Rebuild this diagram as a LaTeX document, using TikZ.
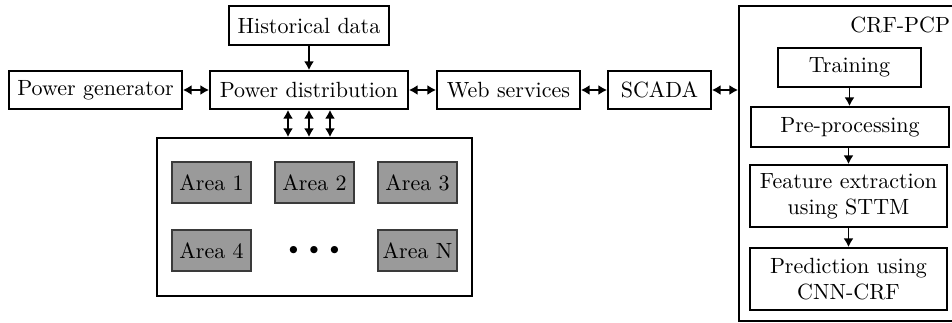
\documentclass[tikz,border=0pt]{standalone}
\usetikzlibrary{arrows.meta}
\def\PX{0.4545pt}
\definecolor{areafill}{HTML}{9A9A9A}
\definecolor{areaedge}{HTML}{3A3A3A}
\tikzset{
  blk/.style={draw, thick, inner sep=0pt, align=center, font=\normalsize},
  areabox/.style={draw=areaedge, fill=areafill, line width=0.5pt, inner sep=0pt,
    minimum width={79*\PX}, minimum height={41*\PX}},
  conn/.style={line width=0.9pt, {Latex[length=4pt,width=4.6pt]}-{Latex[length=4pt,width=4.6pt]}},
  oneway/.style={line width=0.9pt, -{Latex[length=4pt,width=4.6pt]}}
}
\begin{document}
\begin{tikzpicture}[x=\PX, y=-\PX]
\useasboundingbox (0,0) rectangle (952,323);
\begin{scope}
\clip (0,0) rectangle (952,323);
\node[blk, minimum width={160*\PX}, minimum height={39*\PX}] (hist) at (309,25.5) {Historical data};
\node[blk, minimum width={173*\PX}, minimum height={38*\PX}] (gen) at (95.5,90) {Power generator};
\node[blk, minimum width={198*\PX}, minimum height={38*\PX}] (dist) at (309,90) {Power distribution};
\node[blk, minimum width={143*\PX}, minimum height={38*\PX}] (web) at (508.5,90) {Web services};
\node[blk, minimum width={103*\PX}, minimum height={38*\PX}] (scada) at (659.5,90) {SCADA};
\node[blk, minimum width={219*\PX}, minimum height={315*\PX}] (crf) at (848.5,163.5) {};
\node[inner sep=0pt, anchor=east] (crflabel) at (950.5,25) {CRF-PCP};
\node[blk, minimum width={143*\PX}, minimum height={39*\PX}] (train) at (849.5,67.5) {Training};
\node[blk, minimum width={198*\PX}, minimum height={40*\PX}] (pre) at (850,127) {Pre-processing};
\node[blk, minimum width={197*\PX}, minimum height={62*\PX}] (feat) at (848.5,196) {Feature extraction\\using STTM};
\node[blk, minimum width={197*\PX}, minimum height={62*\PX}] (pred) at (848.5,279) {Prediction using\\CNN-CRF};
\node[blk, minimum width={315*\PX}, minimum height={158*\PX}] (areas) at (314.5,217) {};
\node[areabox] (a1) at (211.5,182.5) {Area 1};
\node[areabox] (a2) at (314.5,182.5) {Area 2};
\node[areabox] (a3) at (417.5,182.5) {Area 3};
\node[areabox] (a4) at (211.5,250.5) {Area 4};
\node[areabox] (aN) at (417.5,250.5) {Area N};
\node[inner sep=0pt, font=\footnotesize] (dots) at (314,250) {$\bullet\hspace{3.2pt}\bullet\hspace{3.2pt}\bullet$};
\draw[conn] (gen) -- (dist);
\draw[conn] (dist) -- (web);
\draw[conn] (web) -- (scada);
\draw[conn] (scada.east) -- (scada.east -| crf.west);
\draw[oneway] (hist) -- (dist);
\draw[oneway] (train) -- (train |- pre.north);
\draw[oneway] (pre.south -| feat.north) -- (feat);
\draw[oneway] (feat) -- (pred);
\foreach \dx in {-21,0,21} {
  \draw[conn] ([xshift=\dx*\PX]dist.south) -- ([xshift=\dx*\PX]dist.south |- areas.north);
}
\end{scope}
\end{tikzpicture}
\end{document}
